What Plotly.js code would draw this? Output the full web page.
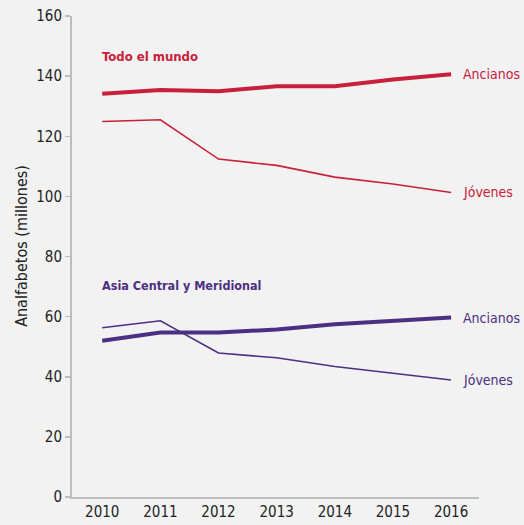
<!DOCTYPE html>
<html>
<head>
<meta charset="utf-8">
<script src="https://cdn.plot.ly/plotly-3.0.1.min.js"></script>
<style>
  html, body { margin: 0; padding: 0; background: #f2f2f2; }
  #chart { width: 524px; height: 525px; }
</style>
</head>
<body>
<div id="chart"></div>
<script>
let years = [2010, 2011, 2012, 2013, 2014, 2015, 2016]
let mundoAncianos = [134.1, 135.4, 135.0, 136.6, 136.6, 138.9, 140.6]
let mundoJovenes = [124.9, 125.5, 112.4, 110.3, 106.4, 104.1, 101.3]
let asiaAncianos = [52.0, 54.7, 54.7, 55.7, 57.5, 58.7, 59.7]
let asiaJovenes = [56.3, 58.6, 47.9, 46.3, 43.4, 41.1, 38.9]
let yTicks = [0, 20, 40, 60, 80, 100, 120, 140, 160]

let red = '#c8203a'
let purple = '#4b2f82'
let font = '"DejaVu Sans Condensed", "Liberation Sans Narrow", sans-serif'

let makeTrace = function (y, color, width) {
    return {
        x: years,
        y: y,
        mode: 'lines',
        type: 'scatter',
        line: { color: color, width: width },
        hoverinfo: 'skip'
    }
}

let data = [
    makeTrace(mundoJovenes, red, 1.6),
    makeTrace(mundoAncianos, red, 4),
    makeTrace(asiaJovenes, purple, 1.6),
    makeTrace(asiaAncianos, purple, 4)
]

let endLabel = function (text, y, color) {
    return {
        x: 2016, y: y, xref: 'x', yref: 'y', text: text, showarrow: false,
        xanchor: 'left', xshift: 10,
        font: { family: font, size: 14, color: color }
    }
}

let layout = {
    width: 524,
    height: 525,
    showlegend: false,
    paper_bgcolor: '#f2f2f2',
    plot_bgcolor: '#f2f2f2',
    margin: { l: 72, r: 45, t: 16, b: 28 },
    font: { family: font, color: '#222' },
    xaxis: {
        range: [2009.48, 2016.48],
        tickvals: years,
        ticks: '',
        showgrid: false,
        zeroline: false,
        showline: true,
        linecolor: '#bdbdbd',
        linewidth: 2,
        tickfont: { family: font, size: 15, color: '#222' }
    },
    yaxis: {
        range: [0, 160],
        tickvals: yTicks,
        ticks: 'outside',
        ticklen: 5,
        tickcolor: '#bdbdbd',
        tickwidth: 1.5,
        showgrid: false,
        zeroline: false,
        showline: true,
        linecolor: '#bdbdbd',
        linewidth: 2,
        tickfont: { family: font, size: 15, color: '#222' }
    },
    annotations: [
        {
            x: -0.123, y: 0.522, xref: 'paper', yref: 'paper', text: 'Analfabetos (millones)',
            showarrow: false, textangle: -90, xanchor: 'center', yanchor: 'middle',
            font: { family: font, size: 16, color: '#222' }
        },
        {
            x: 2010, y: 146.5, xref: 'x', yref: 'y', text: '<b>Todo el mundo</b>', showarrow: false,
            xanchor: 'left', xshift: -2, font: { family: font, size: 13, color: red }
        },
        {
            x: 2010, y: 70.5, xref: 'x', yref: 'y', text: '<b>Asia Central y Meridional</b>', showarrow: false,
            xanchor: 'left', xshift: -2, font: { family: font, size: 12.5, color: purple }
        },
        endLabel('Ancianos', mundoAncianos[6], red),
        endLabel('Jóvenes', mundoJovenes[6], red),
        endLabel('Ancianos', asiaAncianos[6], purple),
        endLabel('Jóvenes', asiaJovenes[6], purple)
    ]
}

Plotly.newPlot('chart', data, layout, { displayModeBar: false, staticPlot: true })
</script>
</body>
</html>
